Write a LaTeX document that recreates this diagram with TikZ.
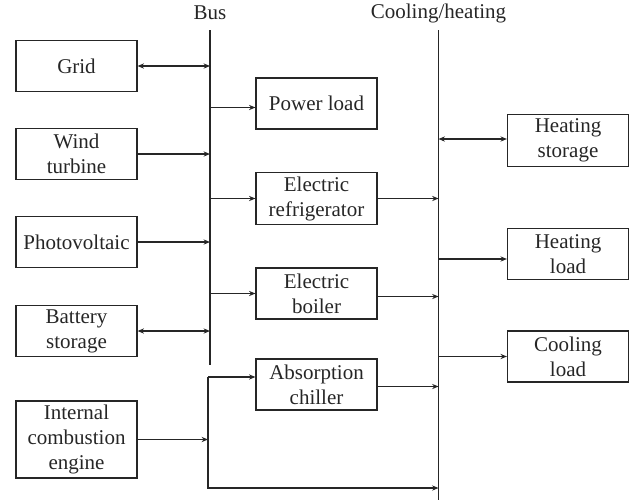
\documentclass[tikz,border=0pt]{standalone}
\usepackage{fontspec}
\setmainfont{Liberation Serif}
\usepackage{tikz}
\usetikzlibrary{arrows.meta, calc, positioning}

\begin{document}
\begin{tikzpicture}[x=0.5pt, y=-0.5pt, font=\fontsize{10.5}{12.5}\selectfont,
	line width=0.6pt, color=black!85,
	unit/.style={draw, align=center, minimum width=60.5pt, minimum height=25.5pt,
		inner xsep=1pt, inner ysep=2pt},
	flow/.style={-{Stealth[length=3.2pt, width=2.6pt]}},
	both/.style={{Stealth[length=3.2pt, width=2.6pt]}-{Stealth[length=3.2pt, width=2.6pt]}}]
	\useasboundingbox (0,0) rectangle (638,500);

	% bus and cooling/heating lines
	\coordinate (bustop) at (210,30);
	\coordinate (busbot) at (210,365);
	\coordinate (heattop) at (438.5,30);
	\coordinate (heatbot) at (438.5,500);
	\draw (bustop) -- (busbot);
	\draw (heattop) -- (heatbot);
	\node[inner sep=0pt] (buslbl) at (210,13) {Bus};
	\node[inner sep=0pt] (heatlbl) at (438.5,13) {Cooling/heating};

	\foreach \n/\x/\y/\t in {
		grid/76.5/66/Grid,
		wind/76.5/154/{Wind\\turbine},
		pv/76.5/242/Photovoltaic,
		batt/76.5/331/{Battery\\storage},
		ice/76.5/439.5/{Internal\\combustion\\engine},
		pload/316.5/103.5/Power load,
		eref/316.5/198.5/{Electric\\refrigerator},
		eboil/316.5/293.5/{Electric\\boiler},
		chill/316.5/384.5/{Absorption\\chiller},
		hstor/568/140.5/{Heating\\storage},
		hload/568/254/{Heating\\load},
		cload/568/356.5/{Cooling\\load}}{
		\node[unit] (\n) at (\x,\y) {\t};
	}

	% sources to bus
	\draw[both] (grid.east) -- (grid.east -| bustop);
	\draw[flow] (wind.east) -- (wind.east -| bustop);
	\draw[flow] (pv.east) -- (pv.east -| bustop);
	\draw[both] (batt.east) -- (batt.east -| bustop);

	% bus to consumers
	\draw[flow] ($(pload.west -| bustop)+(0,4)$) -- ($(pload.west)+(0,4)$);
	\draw[flow] (eref.west -| bustop) -- (eref.west);
	\draw[flow] (eboil.west -| bustop) -- (eboil.west);

	% converters to cooling/heating
	\draw[flow] (eref.east) -- (eref.east -| heattop);
	\draw[flow] ($(eboil.east)+(0,3)$) -- ($(eboil.east -| heattop)+(0,3)$);
	\draw[flow] ($(chill.east)+(0,2)$) -- ($(chill.east -| heattop)+(0,2)$);

	% cooling/heating to loads
	\draw[both] ($(hstor.west -| heattop)+(0,-1.5)$) -- ($(hstor.west)+(0,-1.5)$);
	\draw[flow] ($(hload.west -| heattop)+(0,5)$) -- ($(hload.west)+(0,5)$);
	\draw[flow] (cload.west -| heattop) -- (cload.west);

	% engine branch
	\coordinate (jtop) at (208,377);
	\coordinate (jbot) at (208,488);
	\draw[flow] (ice.east) -- (ice.east -| jtop);
	\draw[flow] (jtop) -- (jtop -| chill.west);
	\draw[flow] (jtop) -- (jbot) -- (jbot -| heattop);
\end{tikzpicture}
\end{document}
